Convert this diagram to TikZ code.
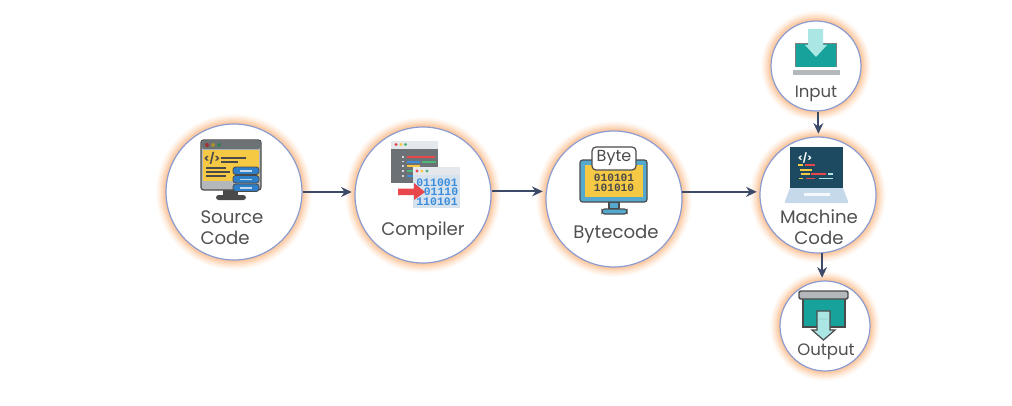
\documentclass[tikz,border=0pt]{standalone}
\usepackage{fontspec}
\setmainfont{Poppins}
\newfontfamily\monofont{Liberation Mono}
\usetikzlibrary{arrows.meta,positioning,calc}
\definecolor{glow}{HTML}{F8A868}
\definecolor{ringblue}{HTML}{8C9BD0}
\definecolor{arrowblue}{HTML}{3C4A68}
\definecolor{labelgray}{HTML}{505050}
\definecolor{darkline}{HTML}{4A4A4A}
\definecolor{screenyellow}{HTML}{F6C945}
\definecolor{serverblue}{HTML}{2F7FC8}
\definecolor{frameblue}{HTML}{55A9CF}
\definecolor{panelgray}{HTML}{6C7175}
\definecolor{barlight}{HTML}{E4E8EC}
\definecolor{binpanel}{HTML}{D6E3EF}
\definecolor{binblue}{HTML}{3C8EDC}
\definecolor{codered}{HTML}{E8474C}
\definecolor{codegreen}{HTML}{4CB878}
\definecolor{laptopteal}{HTML}{1D4A60}
\definecolor{laptopbase}{HTML}{C6D9EA}
\definecolor{tealbody}{HTML}{17A39B}
\definecolor{tealpale}{HTML}{A9E6E4}
\definecolor{basegray}{HTML}{B4B8BA}
\begin{document}
\begin{tikzpicture}[
  x=0.75pt, y=-0.75pt,
  >={Stealth[length=2.8mm,width=2.6mm]},
  stage/.style={circle, draw=ringblue, fill=white, line width=0.9pt, inner sep=0pt,
    preaction={draw=glow, draw opacity=0.05, line width=15pt},
    preaction={draw=glow, draw opacity=0.07, line width=13pt},
    preaction={draw=glow, draw opacity=0.09, line width=11pt},
    preaction={draw=glow, draw opacity=0.11, line width=9pt},
    preaction={draw=glow, draw opacity=0.14, line width=7pt},
    preaction={draw=glow, draw opacity=0.18, line width=5pt},
    preaction={draw=glow, draw opacity=0.22, line width=3pt}},
  big/.style={stage, minimum size=102pt},
  mid/.style={stage, minimum size=87pt},
  small/.style={stage, minimum size=67.5pt},
  lbl/.style={text=labelgray, font=\fontsize{13.6}{16}\selectfont, inner sep=0pt},
  smalllbl/.style={lbl, font=\fontsize{12.4}{14}\selectfont},
  bin/.style={font=\monofont\bfseries\fontsize{8.6}{9}\selectfont, inner sep=0pt},
  outl/.style={draw=darkline, line width=0.9pt},
  ar/.style={->, draw=arrowblue, line width=1.6pt, shorten >=2pt},
]
\useasboundingbox (0,0) rectangle (1012,406);
% circles
\node[big] (source) at (234,192) {};
\node[big] (compiler) at (423,195) {};
\node[big] (bytecode) at (614,199) {};
\node[mid] (machine) at (818,195) {};
\node[small] (input) at (816,66) {};
\node[small] (output) at (825,326) {};
% labels
\node[lbl, align=left] (sourcelbl) at (232,228) {Source\\Code};
\node[lbl] (compilerlbl) at (423,231) {Compiler};
\node[lbl] (bytecodelbl) at (616,234) {Bytecode};
\node[lbl, align=center] (machinelbl) at (819,227) {Machine\\Code};
\node[smalllbl] (inputlbl) at (816,94) {Input};
\node[smalllbl] (outputlbl) at (826,352) {Output};
% connectors
\draw[ar] (source.east) -- (compiler.west |- source.east);
\draw[ar] (compiler.3) -- (bytecode.west |- compiler.3);
\draw[ar] (bytecode.6) -- (machine.west |- bytecode.6);
\draw[ar] (input.-87) -- (input.-87 |- machine.north);
\draw[ar] (machine.-86) -- (machine.-86 |- output.north);
% source code icon
\fill[darkline] (223,188) rectangle (238,196);
\fill[darkline, rounded corners=2pt] (216,195) rectangle (246,200);
\draw[outl, fill=basegray, rounded corners=2pt] (201,140) rectangle (261,190);
\fill[panelgray, rounded corners=1pt] (202,141) rectangle (260,149);
\fill[codered!70!black] (207,145) circle (2);
\fill[screenyellow!70!black] (213,145) circle (2);
\fill[codegreen!70!black] (219,145) circle (2);
\fill[screenyellow] (203,150) rectangle (259,181);
\node[font=\bfseries\fontsize{8}{8}\selectfont, text=darkline, inner sep=0pt] (codetag) at (212,158) {</>};
\foreach \ypos/\xstart/\xend in {157/221/246, 161/221/238, 167/206/226, 171/206/230, 175/206/226}
  \fill[darkline] (\xstart,\ypos) rectangle (\xend,\ypos+1.5);
\foreach \ypos in {167,175.5,184}{
  \draw[draw=darkline, fill=serverblue, rounded corners=2pt, line width=0.6pt] (233,\ypos) rectangle (259,\ypos+7.5);
  \fill[white!70!serverblue] (240,\ypos+3) rectangle (252,\ypos+4.5);
}
% compiler icon
\fill[barlight] (391,141) rectangle (438,149);
\fill[panelgray] (391,149) rectangle (438,183);
\fill[codered] (396,144.5) circle (1.6);
\fill[screenyellow] (401,144.5) circle (1.6);
\fill[codegreen] (405.5,144.5) circle (1.6);
\fill[codered] (407,156) rectangle (435,158);
\fill[binblue] (407,160.5) rectangle (420,162.5);
\fill[codegreen] (422,160.5) rectangle (436,162.5);
\fill[screenyellow] (407,165) rectangle (420,167);
\fill[codegreen] (407,170) rectangle (413,172);
\fill[binblue] (407,175) rectangle (413,177);
\foreach \ypos in {157,161.5,166,171,176}
  \fill[white!85!black] (402,\ypos-0.8) rectangle (404,\ypos+0.8);
\fill[binpanel] (413,167) rectangle (460,208);
\fill[barlight] (413,167) rectangle (460,175);
\fill[codered] (417,171) circle (1.6);
\fill[screenyellow] (422,171) circle (1.6);
\fill[codegreen] (427,171) circle (1.6);
\node[bin, text=binblue] (binone) at (437,182.5) {011001};
\node[bin, text=binblue] (bintwo) at (441,192) {01110};
\node[bin, text=binblue] (binthree) at (437,202) {110101};
\fill[codered] (398,188.5) -- (414,188.5) -- (414,183) -- (425,192) -- (414,200) -- (414,195) -- (398,195) -- cycle;
% bytecode icon
\draw[outl, fill=frameblue] (609,202) rectangle (619,209);
\draw[outl, fill=frameblue, rounded corners=2pt] (602,209) rectangle (627,214);
\draw[outl, fill=frameblue, rounded corners=2pt] (580,160) rectangle (647,202);
\fill[screenyellow] (585,165) rectangle (643,197);
\draw[outl, fill=white, rounded corners=3pt] (592,147) rectangle (636,170);
\node[font=\fontsize{12}{14}\selectfont, text=darkline, inner sep=0pt] (bytetag) at (614,158) {Byte};
\node[bin, font=\monofont\bfseries\fontsize{8.4}{9}\selectfont, text=darkline] (bytesone) at (614,178) {010101};
\node[bin, font=\monofont\bfseries\fontsize{8.4}{9}\selectfont, text=darkline] (bytestwo) at (614,188) {101010};
% machine code icon
\fill[laptopteal] (790,147) rectangle (843,188);
\fill[laptopbase] (790,188) -- (843,188) -- (848,201) -- (848,203) -- (785,203) -- (785,201) -- cycle;
\fill[white!80!laptopbase] (804,193) rectangle (830,196);
\node[font=\bfseries\fontsize{7}{7}\selectfont, text=white, inner sep=0pt] (tagmachine) at (805,158) {</>};
\fill[screenyellow] (798,164) rectangle (803,165.5);
\fill[codered] (805,164) rectangle (815,165.5);
\fill[screenyellow] (800,169) rectangle (812,170.5);
\fill[screenyellow] (801,173) rectangle (810,174.5);
\fill[codered] (811,173) rectangle (826,174.5);
\fill[tealpale] (828,172.5) rectangle (833,174.5);
\fill[screenyellow] (799,177.5) rectangle (803,179);
\fill[codered] (806,177.5) rectangle (815,179);
\fill[tealpale] (819,177.5) rectangle (833,179);
% input icon
\fill[tealbody] (795,43) rectangle (836,67);
\draw[darkline!70, line width=0.5pt] (795,67) -- (795,43) -- (836,43) -- (836,67);
\fill[basegray] (793,70) rectangle (840,75);
\fill[tealpale] (808,29) -- (823,29) -- (823,45) -- (827,45) -- (816,57) -- (805,45) -- (808,45) -- cycle;
\fill[white!70!tealbody] (811,37) rectangle (820,38.5);
% output icon
\draw[outl, fill=tealbody, line width=1.1pt] (803,298) rectangle (845,327);
\draw[outl, fill=basegray, rounded corners=1.5pt, line width=1.1pt] (799,291) rectangle (848,299);
\draw[outl, fill=tealpale] (817,311) -- (830,311) -- (830,330) -- (835,330) -- (823.5,340) -- (812,330) -- (817,330) -- cycle;
\fill[white!60!tealbody] (819,318) rectangle (828,319.5);
\end{tikzpicture}
\end{document}
